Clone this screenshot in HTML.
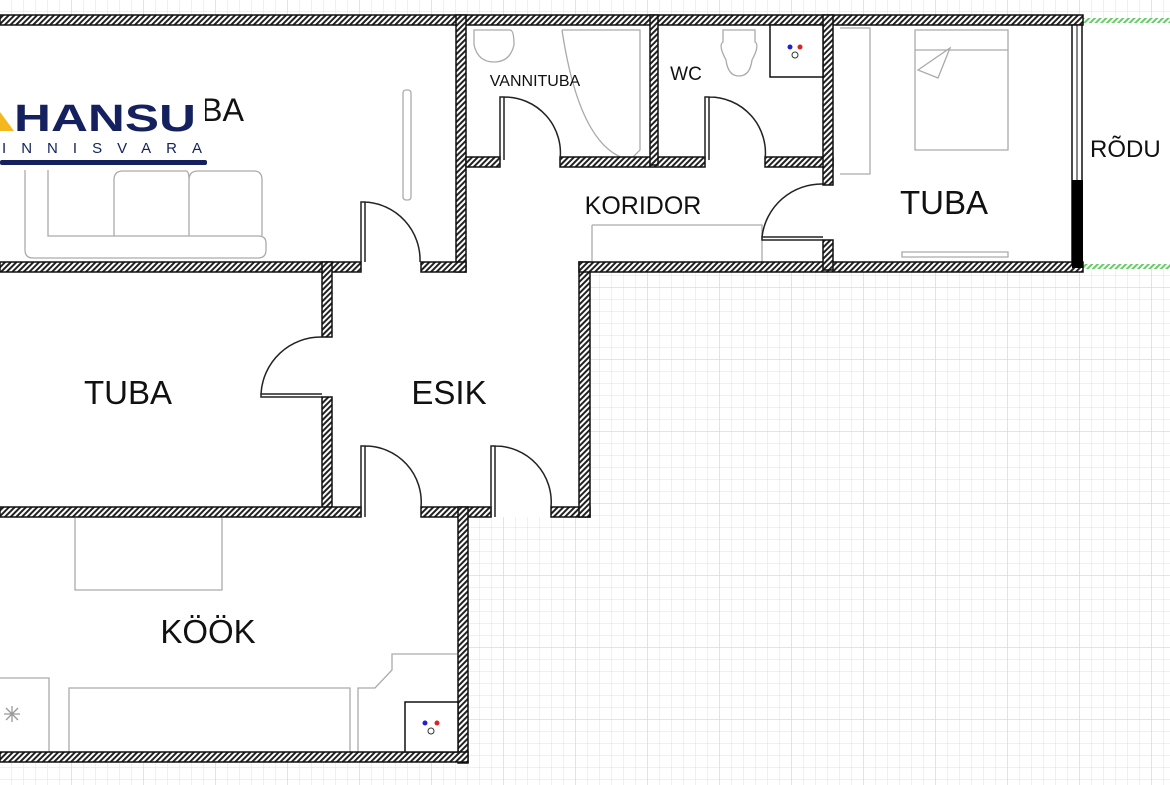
<!DOCTYPE html>
<html><head><meta charset="utf-8"><style>
html,body{margin:0;padding:0;background:#fff;}
svg{display:block;}
text{font-family:"Liberation Sans",sans-serif;fill:#111;}
</style></head><body>
<svg width="1170" height="785" viewBox="0 0 1170 785" xmlns="http://www.w3.org/2000/svg">
<defs>
<pattern id="g" width="12" height="12" patternUnits="userSpaceOnUse"><path d="M12 0V12M0 12H12" stroke="#e2e2e2" stroke-width="1" fill="none"/></pattern>
<pattern id="G" width="72" height="72" patternUnits="userSpaceOnUse"><path d="M72 0V72M0 72H72" stroke="#d4d4d4" stroke-width="1.3" fill="none"/></pattern>
<pattern id="h" width="4" height="4" patternUnits="userSpaceOnUse" patternTransform="rotate(45)"><rect width="4" height="4" fill="#fff"/><rect width="2" height="4" fill="#222"/></pattern>
<pattern id="gh" width="4" height="4" patternUnits="userSpaceOnUse" patternTransform="rotate(45)"><rect width="4" height="4" fill="#6c6"/><rect width="2" height="4" fill="#fff"/></pattern>
</defs>
<rect width="1170" height="785" fill="#fff"/>
<rect width="1170" height="785" fill="url(#g)"/>
<rect width="1170" height="785" fill="url(#G)"/>
<g fill="#fff">
<rect x="0" y="20" width="1078" height="247"/>
<rect x="0" y="262" width="588" height="255"/>
<rect x="0" y="507" width="467" height="255"/>
<rect x="1082" y="20" width="88" height="248"/>
</g>
<rect x="1083" y="18" width="87" height="5" fill="url(#gh)"/>
<rect x="1083" y="264" width="87" height="5" fill="url(#gh)"/>
<g fill="none" stroke="#aaa" stroke-width="1.3">
<path d="M25 170 V250 Q25 258 33 258 H258 Q266 258 266 250 V243 Q266 236 258 236 H48 V170"/>
<path d="M114 236 V180 Q114 171 123 171 H186 Q189 171 189 180 V236 M189 180 Q189 171 198 171 H254 Q262 171 262 180 V236"/>
<rect x="403" y="90" width="8" height="110" rx="3"/>
<path d="M75 518 V590 H222 V518"/>
<path d="M0 678 H49 V752 M69 752 V688 H350 V752 M358 752 V688 H375 L392 670 V654 H457"/>
<path d="M4 714 L20 714 M12 706 V722 M6 708 L18 720 M18 708 L6 720" stroke="#999"/>
<path d="M474 30 H510 Q514 30 514 45 Q510 62 494 62 Q478 62 474 45 Z"/>
<path d="M562 30 H640 V150 L630 160 Q580 150 562 30"/>
<path d="M723 30 H755 V42 Q760 45 752 60 Q750 76 739 76 Q728 76 726 60 Q718 45 723 42 Z"/>
<path d="M840 28 H870 V174 H840"/>
<path d="M915 30 H1008 V150 H915 Z M915 50 H1008 M918 70 L950 48 L938 78 Z"/>
<path d="M592 225 H762 V262 M592 225 V262"/>
<path d="M902 252 H1008 V257 H902 Z"/>
</g>
<g fill="url(#h)" stroke="#111" stroke-width="1.5">
<rect x="0" y="15" width="1083" height="10"/>
<rect x="456" y="15" width="10" height="257"/>
<rect x="0" y="262" width="361" height="10"/>
<rect x="421" y="262" width="45" height="10"/>
<rect x="322" y="262" width="10" height="75"/>
<rect x="322" y="397" width="10" height="120"/>
<rect x="0" y="507" width="361" height="10"/>
<rect x="421" y="507" width="70" height="10"/>
<rect x="551" y="507" width="39" height="10"/>
<rect x="579" y="262" width="11" height="255"/>
<rect x="579" y="262" width="504" height="10"/>
<rect x="458" y="507" width="10" height="256"/>
<rect x="0" y="752" width="468" height="10"/>
<rect x="466" y="157" width="34" height="10"/>
<rect x="560" y="157" width="145" height="10"/>
<rect x="650" y="15" width="8" height="150"/>
<rect x="765" y="157" width="68" height="10"/>
<rect x="823" y="15" width="10" height="170"/>
<rect x="823" y="240" width="10" height="30"/>
</g>
<rect x="1072" y="25" width="10" height="240" fill="#fff" stroke="#111" stroke-width="1.5"/>
<line x1="1077" y1="25" x2="1077" y2="180" stroke="#111" stroke-width="1"/>
<rect x="1072" y="180" width="11" height="88" fill="#000"/>
<g stroke="#111" stroke-width="1.5" fill="#fff">
<rect x="770" y="25" width="53" height="52"/>
<rect x="405" y="702" width="53" height="50"/>
</g>
<circle cx="790" cy="47" r="2.5" fill="#22c"/><circle cx="800" cy="47" r="2.5" fill="#d22"/><circle cx="795" cy="55" r="3" fill="none" stroke="#333"/>
<circle cx="425" cy="723" r="2.5" fill="#22c"/><circle cx="437" cy="723" r="2.5" fill="#d22"/><circle cx="431" cy="731" r="3" fill="none" stroke="#333"/>
<g fill="none" stroke="#222" stroke-width="1.5">
<path d="M361 262 V202 H365 V262 M365 202 A58 58 0 0 1 420 262"/>
<path d="M500 160 V97 H504 V160 M504 97 A56 56 0 0 1 560 160"/>
<path d="M705 160 V97 H709 V160 M709 97 A56 56 0 0 1 765 160"/>
<path d="M823 240 H762 V237 H823 M762 237 A60 60 0 0 1 823 184"/>
<path d="M322 397 H261 V394 H322 M261 394 A60 60 0 0 1 322 337"/>
<path d="M361 517 V446 H365 V517 M365 446 A56 56 0 0 1 421 507"/>
<path d="M491 517 V446 H495 V517 M495 446 A56 56 0 0 1 551 507"/>
</g>
<text x="128" y="404" font-size="33" text-anchor="middle">TUBA</text>
<text x="449" y="404" font-size="33" text-anchor="middle">ESIK</text>
<text x="208" y="643" font-size="33" text-anchor="middle">KÖÖK</text>
<text x="643" y="214" font-size="25" text-anchor="middle">KORIDOR</text>
<text x="944" y="214" font-size="33" text-anchor="middle">TUBA</text>
<text x="535" y="86" font-size="16" text-anchor="middle">VANNITUBA</text>
<text x="686" y="80" font-size="19" text-anchor="middle">WC</text>
<text x="1090" y="157" font-size="24">RÕDU</text>
<text x="158" y="121" font-size="32" textLength="86" lengthAdjust="spacingAndGlyphs">TUBA</text>
<rect x="0" y="96" width="205" height="62" fill="#fff"/>
<polygon points="0,112 14,131 0,131" fill="#f2b81e"/>
<text x="14" y="131" font-size="38" font-weight="bold" style="fill:#14215e" textLength="182" lengthAdjust="spacingAndGlyphs">HANSU</text>
<text x="2" y="153" font-size="15" style="fill:#14215e" textLength="200" lengthAdjust="spacing">INNISVARA</text>
<rect x="0" y="160" width="207" height="5" rx="2" fill="#14215e"/>
</svg>
</body></html>
